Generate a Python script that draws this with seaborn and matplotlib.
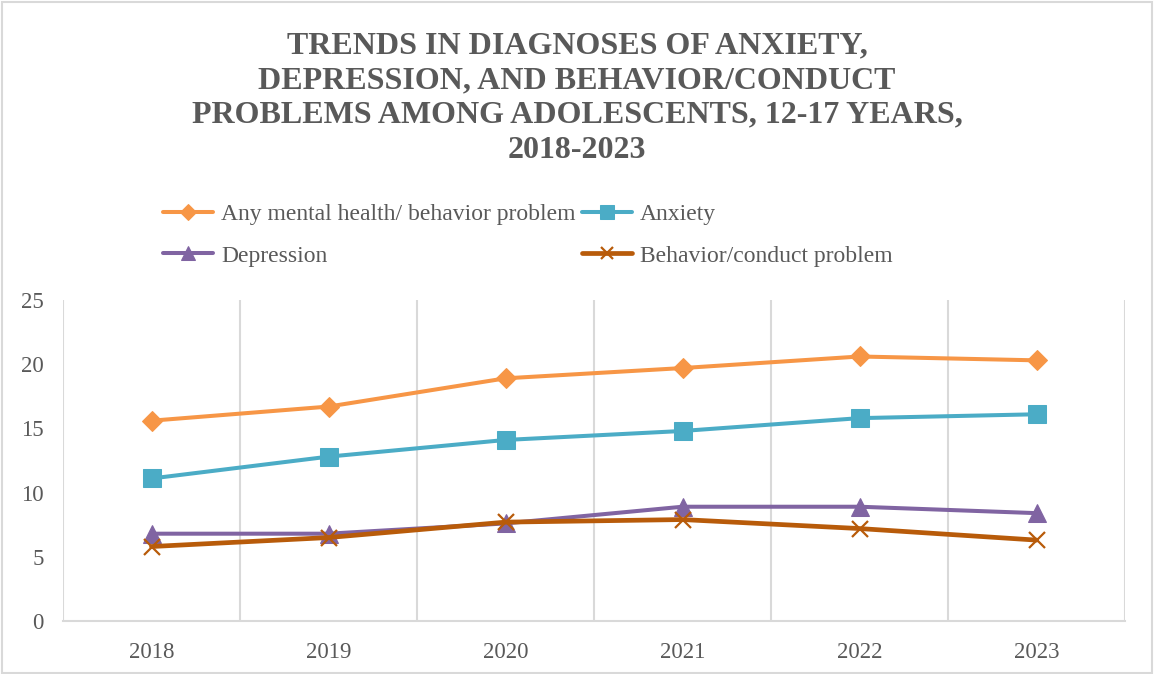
import matplotlib
matplotlib.use("Agg")
import matplotlib.pyplot as plt
import seaborn as sns
import pandas as pd
from matplotlib.patches import Rectangle

years = ["2018", "2019", "2020", "2021", "2022", "2023"]
any_mh = [15.6, 16.7, 18.9, 19.7, 20.6, 20.3]
anxiety = [11.1, 12.8, 14.1, 14.8, 15.8, 16.1]
depression = [6.8, 6.8, 7.6, 8.9, 8.9, 8.4]
behavior = [5.8, 6.5, 7.7, 7.9, 7.2, 6.3]
series_names = ["Any mental health/ behavior problem", "Anxiety", "Depression",
                "Behavior/conduct problem"]
y_ticks = [0, 5, 10, 15, 20, 25]
title = ("TRENDS IN DIAGNOSES OF ANXIETY,\nDEPRESSION, AND BEHAVIOR/CONDUCT\n"
         "PROBLEMS AMONG ADOLESCENTS, 12-17 YEARS,\n2018-2023")

sns.set_theme(style="white")
plt.rcParams['font.family'] = ['Liberation Serif', 'DejaVu Serif']

TXT = "#595959"
GRID = "#D9D9D9"

fig = plt.figure(figsize=(11.54, 6.74), dpi=100)
ax = fig.add_axes([63/1154, 1 - 621/674, (1125-63)/1154, (621-300)/674])

styles = [
    dict(color="#F79646", marker="D", markersize=10.5, linewidth=2.9),
    dict(color="#4BACC6", marker="s", markersize=12.5, linewidth=2.9),
    dict(color="#8064A2", marker="^", markersize=12.5, linewidth=2.9),
    dict(color="#B85B0A", marker="x", markersize=11.5, linewidth=3.4, markeredgewidth=1.6),
]
data = [any_mh, anxiety, depression, behavior]
x = list(range(len(years)))
for name, vals, st in zip(series_names, data, styles):
    df = pd.DataFrame({"x": x, "y": vals})
    sns.lineplot(data=df, x="x", y="y", ax=ax, label=name,
                 markeredgecolor=st["color"], **st)

ax.set_xlim(-0.5, len(years) - 0.5)
ax.set_ylim(0, 25)
ax.set_xticks(x)
ax.set_xticklabels(years)
ax.set_yticks(y_ticks)
ax.set_xticks([i - 0.5 for i in range(len(years) + 1)], minor=True)
ax.grid(False)
ax.grid(True, which="minor", axis="x", color=GRID, linewidth=1.5)
ax.tick_params(axis="both", which="both", length=0, colors=TXT, labelsize=16.5)
ax.tick_params(axis="x", pad=15)
ax.tick_params(axis="y", pad=14)
for s in ["top", "right", "left"]:
    ax.spines[s].set_visible(False)
ax.spines["bottom"].set_color(GRID)
ax.spines["bottom"].set_linewidth(1.5)
ax.set_xlabel("")
ax.set_ylabel("")
ax.get_legend().remove()

handles, labels = ax.get_legend_handles_labels()
order = [0, 2, 1, 3]  # row-wise layout in a 2-column legend
leg = fig.legend([handles[i] for i in order], [labels[i] for i in order],
                 ncol=2, loc="center",
                 bbox_to_anchor=(528/1154, 1 - 235/674), frameon=False,
                 fontsize=17, handlelength=2.1, handletextpad=0.34,
                 columnspacing=0.3, labelspacing=0.85, borderpad=0,
                 markerscale=0.8)
for t in leg.get_texts():
    t.set_color(TXT)

fig.text(577/1154, 1 - 98/674, title, ha="center", va="center",
         fontsize=23, fontweight="bold", color=TXT, linespacing=1.26)

fig.patches.append(Rectangle((2/1154, 1/674), 1150/1154, 671/674,
                             transform=fig.transFigure, fill=False,
                             edgecolor=GRID, linewidth=1.5))

fig.savefig("out.png", dpi=100)
